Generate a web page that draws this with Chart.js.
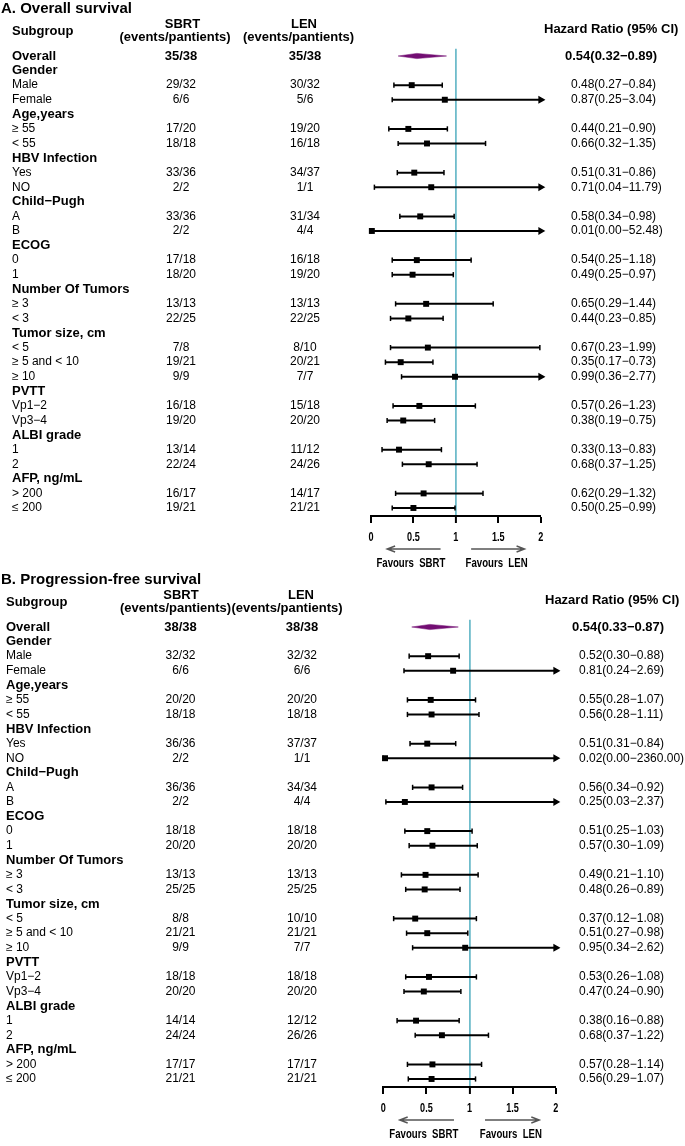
<!DOCTYPE html>
<html>
<head>
<meta charset="utf-8">
<script src="https://cdn.jsdelivr.net/npm/chart.js@4.4.0/dist/chart.umd.min.js"></script>
<style>
  body { margin: 0; background: #fff; }
  canvas { display: block; }
</style>
</head>
<body>
<canvas id="chartA" width="685" height="573"></canvas>
<canvas id="chartB" width="685" height="573"></canvas>
<script>
// rows (same subgroup list for both panels)
const subgroups = ['Overall', 'Gender', 'Male', 'Female', 'Age,years', '\u2265 55', '< 55',
  'HBV Infection', 'Yes', 'NO', 'Child\u2212Pugh', 'A', 'B', 'ECOG', '0', '1',
  'Number Of Tumors', '\u2265 3', '< 3', 'Tumor size, cm', '< 5', '\u2265 5 and < 10', '\u2265 10',
  'PVTT', 'Vp1\u22122', 'Vp3\u22124', 'ALBI grade', '1', '2', 'AFP, ng/mL', '> 200', '\u2264 200'];

// A. Overall survival
const sbrtA = ['35/38', null, '29/32', '6/6', null, '17/20', '18/18', null, '33/36', '2/2', null, '33/36', '2/2', null,
  '17/18', '18/20', null, '13/13', '22/25', null, '7/8', '19/21', '9/9', null, '16/18', '19/20', null, '13/14', '22/24',
  null, '16/17', '19/21'];
const lenA = ['35/38', null, '30/32', '5/6', null, '19/20', '16/18', null, '34/37', '1/1', null, '31/34', '4/4', null,
  '16/18', '19/20', null, '13/13', '22/25', null, '8/10', '20/21', '7/7', null, '15/18', '20/20', null, '11/12', '24/26',
  null, '14/17', '21/21'];
const hrA = [0.54, null, 0.48, 0.87, null, 0.44, 0.66, null, 0.51, 0.71, null, 0.58, 0.01, null, 0.54, 0.49, null,
  0.65, 0.44, null, 0.67, 0.35, 0.99, null, 0.57, 0.38, null, 0.33, 0.68, null, 0.62, 0.50];
const loA = [0.32, null, 0.27, 0.25, null, 0.21, 0.32, null, 0.31, 0.04, null, 0.34, 0.00, null, 0.25, 0.25, null,
  0.29, 0.23, null, 0.23, 0.17, 0.36, null, 0.26, 0.19, null, 0.13, 0.37, null, 0.29, 0.25];
const hiA = [0.89, null, 0.84, 3.04, null, 0.90, 1.35, null, 0.86, 11.79, null, 0.98, 52.48, null, 1.18, 0.97, null,
  1.44, 0.85, null, 1.99, 0.73, 2.77, null, 1.23, 0.75, null, 0.83, 1.25, null, 1.32, 0.99];

// B. Progression-free survival
const sbrtB = ['38/38', null, '32/32', '6/6', null, '20/20', '18/18', null, '36/36', '2/2', null, '36/36', '2/2', null,
  '18/18', '20/20', null, '13/13', '25/25', null, '8/8', '21/21', '9/9', null, '18/18', '20/20', null, '14/14', '24/24',
  null, '17/17', '21/21'];
const lenB = ['38/38', null, '32/32', '6/6', null, '20/20', '18/18', null, '37/37', '1/1', null, '34/34', '4/4', null,
  '18/18', '20/20', null, '13/13', '25/25', null, '10/10', '21/21', '7/7', null, '18/18', '20/20', null, '12/12', '26/26',
  null, '17/17', '21/21'];
const hrB = [0.54, null, 0.52, 0.81, null, 0.55, 0.56, null, 0.51, 0.02, null, 0.56, 0.25, null, 0.51, 0.57, null,
  0.49, 0.48, null, 0.37, 0.51, 0.95, null, 0.53, 0.47, null, 0.38, 0.68, null, 0.57, 0.56];
const loB = [0.33, null, 0.30, 0.24, null, 0.28, 0.28, null, 0.31, 0.00, null, 0.34, 0.03, null, 0.25, 0.30, null,
  0.21, 0.26, null, 0.12, 0.27, 0.34, null, 0.26, 0.24, null, 0.16, 0.37, null, 0.28, 0.29];
const hiB = [0.87, null, 0.88, 2.69, null, 1.07, 1.11, null, 0.84, 2360.00, null, 0.92, 2.37, null, 1.03, 1.09, null,
  1.10, 0.89, null, 1.08, 0.98, 2.62, null, 1.08, 0.90, null, 0.88, 1.22, null, 1.14, 1.07];

const xTicks = [0, 0.5, 1, 1.5, 2];
const xTickLabels = ['0', '0.5', '1', '1.5', '2'];

const FONT = "'Liberation Sans', Arial, sans-serif";
const PURPLE = '#730e73';
const REFBLUE = '#6fbccb';
const ROW_H = 14.58;
const W = 685, H = 573;

Chart.defaults.font.family = FONT;

function hrText(i, hr, lo, hi) {
  return hr[i].toFixed(2) + '(' + lo[i].toFixed(2) + '\u2212' + hi[i].toFixed(2) + ')';
}

function buildDatasets(hr, lo, hi) {
  const ds = [];
  const d = 0.18;
  // overall diamond
  ds.push({
    type: 'line',
    data: [{ x: lo[0], y: 0 }, { x: hr[0], y: -d }, { x: hi[0], y: 0 }, { x: hr[0], y: d }, { x: lo[0], y: 0 }],
    borderColor: PURPLE, backgroundColor: PURPLE, borderWidth: 0.5, fill: 'shape',
    pointRadius: 0, tension: 0, clip: false
  });
  const pts = [];
  for (let i = 1; i < hr.length; i++) {
    if (hr[i] == null) continue;
    const a = Math.max(lo[i], 0), b = Math.min(hi[i], 2);
    const arrow = hi[i] > 2;
    ds.push({
      type: 'line',
      data: [{ x: a, y: i }, { x: b, y: i }],
      borderColor: '#000', borderWidth: 2,
      pointStyle: ['line', arrow ? 'triangle' : 'line'],
      pointRotation: [90, 90],
      pointRadius: [2.6, arrow ? 3.2 : 2.6],
      pointBorderWidth: 1.5,
      pointBorderColor: '#000', pointBackgroundColor: '#000',
      clip: false
    });
    pts.push({ x: hr[i], y: i });
  }
  ds.push({
    type: 'scatter', data: pts, pointStyle: 'rect', pointRadius: 4.2,
    backgroundColor: '#000', borderColor: '#000', borderWidth: 0, clip: false
  });
  return ds;
}

function textPlugin(p, sbrt, len, hr, lo, hi) {
  return {
    id: 'forestText',
    afterDraw(chart) {
      const ctx = chart.ctx;
      const ys = chart.scales.y, xs = chart.scales.x;
      const r0 = ys.getPixelForValue(0);
      ctx.save();
      ctx.fillStyle = '#000';
      ctx.textBaseline = 'middle';
      const txt = (s, x, y, font, align) => { ctx.font = font; ctx.textAlign = align || 'left'; ctx.fillText(s, x, y); };
      // condensed text (axis labels in the original use a narrow face)
      const narrow = (s, x, y, size, sx) => {
        ctx.save();
        ctx.translate(x, y);
        ctx.scale(sx, 1);
        ctx.font = 'bold ' + size + 'px ' + FONT;
        ctx.textAlign = 'center';
        ctx.fillText(s, 0, 0);
        ctx.restore();
      };

      txt(p.title, 1, r0 - 47, 'bold 15px ' + FONT);
      txt('Subgroup', p.labelX, r0 - 24.3, 'bold 13px ' + FONT);
      txt('SBRT', p.sbrtTopX, r0 - 31.5, 'bold 13px ' + FONT, 'center');
      txt('(events/pantients)', p.sbrtHdrX, r0 - 18.8, 'bold 13px ' + FONT, 'center');
      txt('LEN', p.lenTopX, r0 - 31.5, 'bold 13px ' + FONT, 'center');
      txt('(events/pantients)', p.lenHdrX, r0 - 18.8, 'bold 13px ' + FONT, 'center');
      txt('Hazard Ratio (95% CI)', p.hrHdrX, r0 - 26.6, 'bold 13px ' + FONT);

      for (let i = 0; i < subgroups.length; i++) {
        const y = ys.getPixelForValue(i);
        const bold = i === 0 || sbrt[i] == null;
        const f = bold ? 'bold 13px ' + FONT : '12px ' + FONT;
        txt(subgroups[i], p.labelX, y, f);
        if (sbrt[i] != null) {
          txt(sbrt[i], p.sbrtX, y, f, 'center');
          txt(len[i], p.lenX, y, f, 'center');
          txt(hrText(i, hr, lo, hi), i === 0 ? p.hrOverallX : p.hrX, y, f);
        }
      }

      // x tick labels
      xTicks.forEach((v, k) => narrow(xTickLabels[k], xs.getPixelForValue(v), r0 + 481, 13, 0.7));

      // favours arrows
      const ay = r0 + 493, ty = r0 + 507.5;
      ctx.strokeStyle = '#555';
      ctx.lineWidth = 1.4;
      const arrow = (x1, x2) => {
        const px1 = xs.getPixelForValue(x1), px2 = xs.getPixelForValue(x2);
        const dir = px2 > px1 ? 1 : -1;
        ctx.beginPath();
        ctx.moveTo(px1, ay); ctx.lineTo(px2, ay);
        ctx.moveTo(px2 - dir * 8, ay - 3); ctx.lineTo(px2, ay); ctx.lineTo(px2 - dir * 8, ay + 3);
        ctx.stroke();
      };
      arrow(0.82, 0.19);
      arrow(1.18, 1.81);
      narrow('Favours  SBRT', xs.getPixelForValue(0.47), ty, 13, 0.74);
      narrow('Favours  LEN', xs.getPixelForValue(1.48), ty, 13, 0.74);
      ctx.restore();
    }
  };
}

function makeChart(id, p, sbrt, len, hr, lo, hi) {
  const top = p.row0 - 0.5 * ROW_H;
  const axisY = p.row0 + 460;
  const yMax = -0.5 + (axisY - top) / ROW_H;
  return new Chart(document.getElementById(id), {
    type: 'scatter',
    data: { datasets: buildDatasets(hr, lo, hi) },
    options: {
      responsive: false,
      animation: false,
      events: [],
      layout: { padding: { left: p.x0, right: W - p.x2, top: top, bottom: 0 } },
      plugins: { legend: { display: false }, tooltip: { enabled: false } },
      scales: {
        x: {
          type: 'linear', min: 0, max: 2,
          afterBuildTicks: (axis) => { axis.ticks = xTicks.map(v => ({ value: v })); },
          afterFit: (axis) => { axis.height = H - axisY; },
          border: { display: true, color: '#000', width: 2 },
          grid: {
            drawOnChartArea: true,
            color: (c) => (c.tick && c.tick.value === 1 ? REFBLUE : 'rgba(0,0,0,0)'),
            lineWidth: (c) => (c.tick && c.tick.value === 1 ? 1.8 : 0),
            drawTicks: true, tickLength: 7, tickColor: '#000', tickWidth: 2
          },
          ticks: { display: false }
        },
        y: { type: 'linear', reverse: true, min: -0.5, max: yMax, display: false }
      }
    },
    plugins: [textPlugin(p, sbrt, len, hr, lo, hi)]
  });
}

const layoutA = {
  title: 'A. Overall survival', x0: 371, x2: 540.7, row0: 56, labelX: 12,
  sbrtX: 181, sbrtTopX: 182.5, sbrtHdrX: 175, lenX: 305, lenTopX: 304, lenHdrX: 298.5,
  hrX: 571, hrOverallX: 565, hrHdrX: 544
};
const layoutB = {
  title: 'B. Progression-free survival', x0: 383.3, x2: 555.7, row0: 54, labelX: 6,
  sbrtX: 180.5, sbrtTopX: 181, sbrtHdrX: 175.5, lenX: 302, lenTopX: 301, lenHdrX: 287,
  hrX: 579, hrOverallX: 572, hrHdrX: 545
};

makeChart('chartA', layoutA, sbrtA, lenA, hrA, loA, hiA);
makeChart('chartB', layoutB, sbrtB, lenB, hrB, loB, hiB);
</script>
</body>
</html>
